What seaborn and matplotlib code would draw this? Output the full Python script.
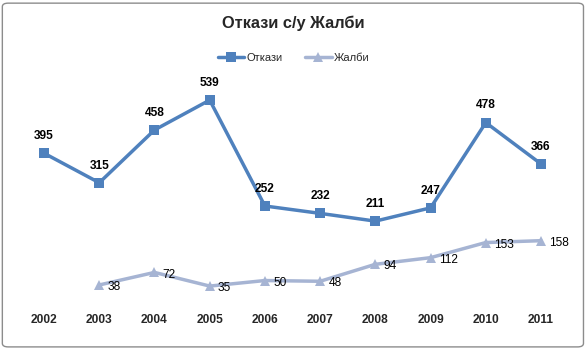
import matplotlib
matplotlib.use("Agg")
import matplotlib.pyplot as plt
import seaborn as sns
import pandas as pd
from matplotlib.patches import FancyBboxPatch
from matplotlib.lines import Line2D

years = ["2002", "2003", "2004", "2005", "2006", "2007", "2008", "2009", "2010", "2011"]
otkazi = [395, 315, 458, 539, 252, 232, 211, 247, 478, 366]
zhalbi_years = ["2003", "2004", "2005", "2006", "2007", "2008", "2009", "2010", "2011"]
zhalbi = [38, 72, 35, 50, 48, 94, 112, 153, 158]
series_names = ["Откази", "Жалби"]
title = "Откази с/у Жалби"

sns.set_theme(style="white")
plt.rcParams['font.family'] = ['Liberation Sans', 'DejaVu Sans']

c1 = "#4F81BD"
c2 = "#A6B4D3"

xpos = {y: i for i, y in enumerate(years)}
df = pd.concat([
    pd.DataFrame({"x": [xpos[y] for y in years], "v": otkazi, "s": series_names[0]}),
    pd.DataFrame({"x": [xpos[y] for y in zhalbi_years], "v": zhalbi, "s": series_names[1]}),
])

fig = plt.figure(figsize=(5.87, 3.49), dpi=100)
ax = fig.add_axes([0.028, 0.1433, 0.9407, 0.6344])
sns.lineplot(data=df, x="x", y="v", hue="s", style="s",
             palette={series_names[0]: c1, series_names[1]: c2},
             markers={series_names[0]: "s", series_names[1]: "^"},
             dashes=False, markersize=7, linewidth=2.5, markeredgewidth=0,
             legend=False, ax=ax)

for y, v in zip(years, otkazi):
    ax.annotate(str(v), (xpos[y], v), xytext=(0, 8), textcoords="offset points",
                ha="center", va="bottom", fontsize=8.6, fontweight="bold", color="black")
for y, v in zip(zhalbi_years, zhalbi):
    ax.annotate(str(v), (xpos[y], v), xytext=(6, -1.5), textcoords="offset points",
                ha="left", va="center", fontsize=8.6, color="black")

ax.set_xlim(-0.5, len(years) - 0.5)
ax.set_ylim(0, 600)
ax.set_xticks(range(len(years)))
ax.set_xticklabels(years, fontsize=8.6, fontweight="bold")
ax.tick_params(axis="x", length=0, pad=10.5)
ax.set_yticks([])
ax.set_xlabel("")
ax.set_ylabel("")
for sp in ax.spines.values():
    sp.set_visible(False)

fig.text(0.5, 0.934, title, ha="center", va="center", fontsize=11.8, fontweight="bold")

handles = [Line2D([0], [0], color=c1, marker="s", linewidth=2.5, markersize=7, markeredgewidth=0),
           Line2D([0], [0], color=c2, marker="^", linewidth=2.5, markersize=7, markeredgewidth=0)]
fig.legend(handles, series_names, loc="center", bbox_to_anchor=(0.5, 0.834), ncol=2,
           frameon=False, fontsize=8, handlelength=2.4, handletextpad=0.2, columnspacing=2.0)

border = FancyBboxPatch((0.004, 0.006), 0.99, 0.985, boxstyle="round,pad=0,rounding_size=0.01",
                        transform=fig.transFigure, fill=False, edgecolor="#8C8C8C", linewidth=1.0)
fig.patches.append(border)

fig.savefig("out.png", dpi=100)
